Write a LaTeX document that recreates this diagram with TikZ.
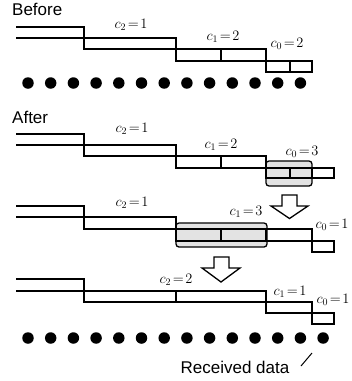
\documentclass[tikz,border=0pt]{standalone}
\usepackage{fontspec}
\setsansfont{Liberation Sans}
\tikzset{
  ln/.style={line width=1.3pt, line join=miter, line cap=rect},
  lab/.style={inner sep=0pt, font=\fontsize{14}{16}\selectfont},
  ttl/.style={inner sep=0pt, font=\sffamily\fontsize{17}{20}\selectfont, anchor=base west},
  datum/.style={circle, fill=black, minimum size=11.5pt, inner sep=0pt},
  grp/.style={fill=gray!22, draw=black, line width=1.3pt, rounded corners=3pt},
  barrow/.style={fill=white, draw=black, line width=1.3pt, line join=miter},
}
\newcommand{\cl}[2]{$c_{#1}\!=\!#2$}
\begin{document}
\begin{tikzpicture}[x=1pt,y=-1pt]
\useasboundingbox (0,0) rectangle (352,381);
% titles
\node[ttl] (before) at (12,15) {Before};
\node[ttl] (after) at (12,123) {After};
% ---------- Row 0 (Before)
\draw[ln] (17,27) -- (84,27) -- (84,49);
\draw[ln] (17,38) -- (176,38);
\draw[ln] (84,38) rectangle (176,49);
\draw[ln] (176,38) -- (176,61);
\draw[ln] (176,49) rectangle (266,61);
\draw[ln] (221,49) -- (221,61);
\draw[ln] (266,49) -- (266,72);
\draw[ln] (266,61) rectangle (312,72);
\draw[ln] (290,61) -- (290,72);
\node[lab] (a2) at (131,25) {\cl{2}{1}};
\node[lab] (a1) at (223,37) {\cl{1}{2}};
\node[lab] (a0) at (287,44) {\cl{0}{2}};
\foreach \i in {0,...,12} \node[datum] (t\i) at ({28+22.7*\i},83) {};
% ---------- Row 1 (After)
\draw[grp] (266,161) rectangle (312,186);
\draw[ln] (17,134) -- (84,134) -- (84,156);
\draw[ln] (17,145) -- (176,145);
\draw[ln] (84,145) rectangle (176,156);
\draw[ln] (176,145) -- (176,168);
\draw[ln] (176,156) rectangle (266,168);
\draw[ln] (221,156) -- (221,168);
\draw[ln] (266,156) -- (266,178);
\draw[ln] (266,168) rectangle (334,178);
\draw[ln] (290,168) -- (290,178);
\draw[ln] (312,168) -- (312,178);
\node[lab] (b2) at (132,129) {\cl{2}{1}};
\node[lab] (b1) at (221,145) {\cl{1}{2}};
\node[lab] (b0) at (302,152) {\cl{0}{3}};
% arrow 1
\draw[barrow] (282,195) -- (297,195) -- (297,206) -- (308,206) -- (289.5,218.5) -- (271,206) -- (282,206) -- cycle;
% ---------- Row 2
\draw[grp] (176,223) rectangle (267,247);
\draw[ln] (17,206) -- (84,206) -- (84,229);
\draw[ln] (17,217) -- (176,217);
\draw[ln] (84,217) rectangle (176,229);
\draw[ln] (176,217) -- (176,241);
\draw[ln] (176,229) rectangle (312,241);
\draw[ln] (221,229) -- (221,241);
\draw[ln] (266,229) -- (266,241);
\draw[ln] (312,229) -- (312,252);
\draw[ln] (312,241) rectangle (334,252);
\node[lab] (c2) at (132,203) {\cl{2}{1}};
\node[lab] (c1) at (246,212) {\cl{1}{3}};
\node[lab] (c0) at (332,225) {\cl{0}{1}};
% arrow 2
\draw[barrow] (214,257) -- (229,257) -- (229,268) -- (240,268) -- (221,282) -- (202,268) -- (214,268) -- cycle;
% ---------- Row 3
\draw[ln] (17,279) -- (84,279) -- (84,302);
\draw[ln] (17,291) -- (266,291);
\draw[ln] (84,291) rectangle (266,302);
\draw[ln] (176,291) -- (176,302);
\draw[ln] (266,291) -- (266,313);
\draw[ln] (266,302) rectangle (312,313);
\draw[ln] (312,302) -- (312,324);
\draw[ln] (312,313) rectangle (334,324);
\node[lab] (d2) at (176,280) {\cl{2}{2}};
\node[lab] (d1) at (290,292) {\cl{1}{1}};
\node[lab] (d0) at (333,300) {\cl{0}{1}};
\foreach \i in {0,...,13} \node[datum] (u\i) at ({28+22.7*\i},338) {};
% received data
\node[inner sep=0pt, font=\sffamily\fontsize{17}{20}\selectfont, anchor=base] (rd) at (235,373) {Received data};
\coordinate (s1) at (301,366);
\coordinate (s2) at (312,353);
\draw[line width=1pt] (s1) -- (s2);
\end{tikzpicture}
\end{document}
